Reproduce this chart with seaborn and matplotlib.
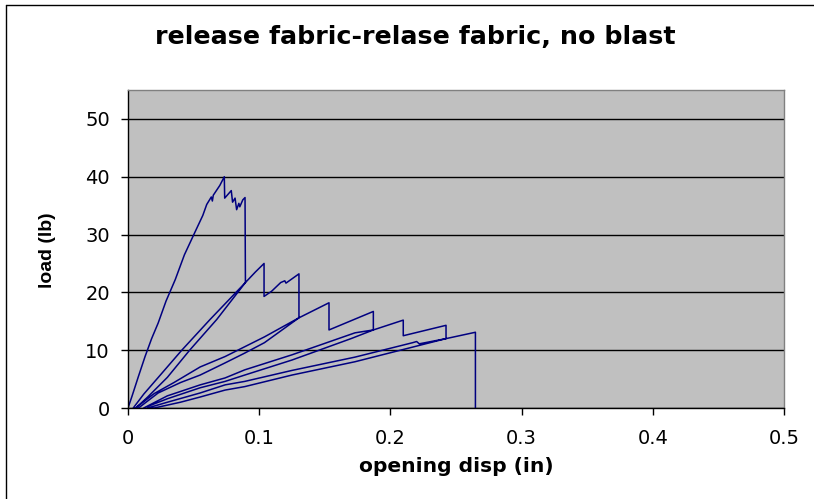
import numpy as np
import pandas as pd
import matplotlib
matplotlib.use("Agg")
import matplotlib.pyplot as plt
from matplotlib.lines import Line2D
import seaborn as sns

# first loading up to the peak
load1_x = [0, 0.003, 0.008, 0.013, 0.018, 0.023, 0.029, 0.036, 0.043, 0.051, 0.057, 0.060, 0.0635, 0.0643, 0.065, 0.070, 0.0734]
load1_y = [0, 2.0, 5.5, 8.9, 12.0, 14.7, 18.5, 22.2, 26.5, 30.4, 33.3, 35.2, 36.5, 35.8, 36.8, 38.5, 40.0]

# saw-tooth after the peak, ends with the big drop
saw_x = [0.0737, 0.0787, 0.0797, 0.0816, 0.0828, 0.0845, 0.0852, 0.0875, 0.0892, 0.0895]
saw_y = [36.3, 37.6, 35.6, 36.3, 34.3, 35.4, 34.8, 36.0, 36.4, 21.7]

# unload / reload 1
unload1_x = [0.0625, 0.041, 0.025, 0.012, 0.004]
unload1_y = [15.3, 10.0, 5.8, 2.4, 0]
reload1_x = [0.006, 0.015, 0.030, 0.047, 0.0676, 0.0895, 0.097, 0.1037]
reload1_y = [0, 1.9, 5.3, 10.0, 15.3, 21.7, 23.5, 25.0]

seg2_x = [0.1037, 0.1095, 0.1164, 0.1195, 0.1204, 0.1303, 0.1303]
seg2_y = [19.3, 20.2, 21.7, 22.0, 21.6, 23.2, 15.6]

# unload / reload 2
unload2_x = [0.104, 0.089, 0.074, 0.055, 0.035, 0.020, 0.008, 0.006]
unload2_y = [12.3, 10.6, 8.9, 7.1, 4.4, 2.5, 0.4, 0]
reload2_x = [0.008, 0.023, 0.040, 0.055, 0.074, 0.089, 0.104, 0.1303]
reload2_y = [0, 2.6, 4.4, 5.7, 7.8, 9.5, 11.3, 15.6]

seg3_x = [0.1532, 0.1532, 0.187, 0.187]
seg3_y = [18.2, 13.5, 16.7, 13.5]

# unload / reload 3
unload3_x = [0.173, 0.125, 0.089, 0.074, 0.055, 0.030, 0.012]
unload3_y = [13.0, 9.2, 6.6, 5.2, 4.0, 2.1, 0]
reload3_x = [0.030, 0.055, 0.074, 0.089, 0.125, 0.170, 0.187]
reload3_y = [1.6, 3.5, 4.6, 5.7, 8.3, 12.0, 13.5]

seg4_x = [0.2098, 0.2098, 0.2424, 0.2424]
seg4_y = [15.2, 12.5, 14.3, 12.0]

# unload / reload 4
unload4_x = [0.222, 0.220, 0.217, 0.173, 0.125, 0.089, 0.074, 0.055, 0.030, 0.015]
unload4_y = [11.1, 11.5, 11.3, 8.8, 6.5, 4.6, 4.0, 2.6, 1.0, 0]
reload4_x = [0.020, 0.040, 0.055, 0.074, 0.089, 0.125, 0.173, 0.2424]
reload4_y = [0, 1.0, 1.9, 3.1, 3.7, 5.7, 8.0, 12.0]

# last reload and final failure
seg5_x = [0.2648, 0.2648]
seg5_y = [13.1, 0]

xs = (load1_x + saw_x + unload1_x + reload1_x + seg2_x + unload2_x + reload2_x
      + seg3_x + unload3_x + reload3_x + seg4_x + unload4_x + reload4_x + seg5_x)
ys = (load1_y + saw_y + unload1_y + reload1_y + seg2_y + unload2_y + reload2_y
      + seg3_y + unload3_y + reload3_y + seg4_y + unload4_y + reload4_y + seg5_y)
df = pd.DataFrame({"disp": xs, "load": ys})

sns.set_style("white")
plt.rcParams["font.family"] = ["DejaVu Sans"]
plt.rcParams["text.color"] = "black"
plt.rcParams["axes.labelcolor"] = "black"

fig = plt.figure(figsize=(8.14, 4.99), dpi=100)
ax = fig.add_axes([128 / 814, 91 / 499, 656 / 814, 318 / 499])
ax.set_facecolor("#C0C0C0")

sns.lineplot(data=df, x="disp", y="load", sort=False, estimator=None,
             color="#000080", linewidth=1.1, ax=ax)

ax.set_xlim(0, 0.5)
ax.set_ylim(0, 55)
ax.set_xticks([0, 0.1, 0.2, 0.3, 0.4, 0.5])
ax.set_xticklabels(["0", "0.1", "0.2", "0.3", "0.4", "0.5"])
ax.set_yticks([0, 10, 20, 30, 40, 50])
ax.yaxis.grid(True, color="black", linewidth=1)
ax.xaxis.grid(False)
ax.set_axisbelow(True)
ax.tick_params(axis="both", direction="out", length=5, width=1, colors="black",
               labelcolor="black", labelsize=14, left=True, bottom=True)
ax.tick_params(axis="y", pad=8)
ax.tick_params(axis="x", pad=10)

for side in ["left", "bottom"]:
    ax.spines[side].set_color("black")
    ax.spines[side].set_linewidth(1)
for side in ["top", "right"]:
    ax.spines[side].set_color("#808080")
    ax.spines[side].set_linewidth(1)

ax.set_xlabel("opening disp (in)", fontsize=14.6, fontweight="bold")
ax.xaxis.set_label_coords(0.5, -(457 - 408) / 318)
ax.xaxis.label.set_va("top")
ax.set_ylabel("load (lb)", fontsize=14, fontweight="bold", family=["Liberation Sans", "DejaVu Sans"])
ax.yaxis.set_label_coords(-(128 - 56) / 656, 0.497)
fig.text(0.5 * (153 + 678) / 814, 1 - 37 / 499, "release fabric-relase fabric, no blast",
         fontsize=18.3, fontweight="bold", ha="center", va="center")

# chart frame
fig.add_artist(Line2D([6 / 814, 6 / 814], [0, 1 - 5 / 499], color="black", linewidth=1))
fig.add_artist(Line2D([6 / 814, 1], [1 - 5 / 499, 1 - 5 / 499], color="black", linewidth=1))

fig.savefig("out.png", dpi=100)
